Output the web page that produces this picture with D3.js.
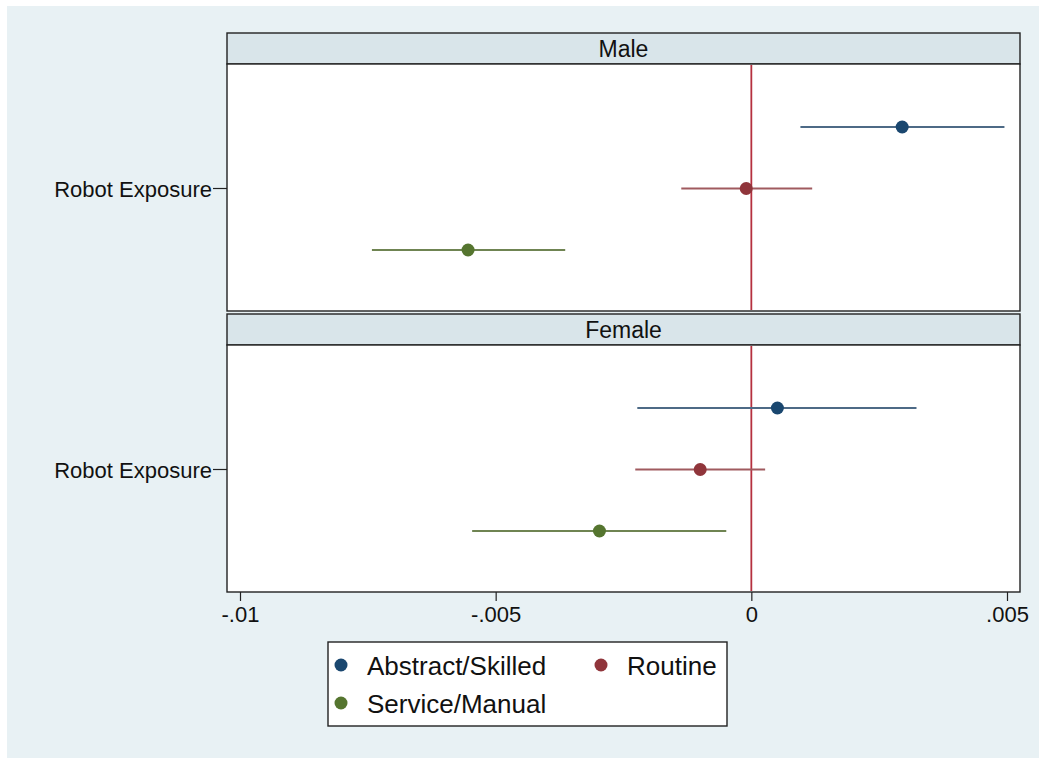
<!DOCTYPE html>
<html><head><meta charset="utf-8">
<script src="https://cdn.jsdelivr.net/npm/d3@7"></script>
<style>body{margin:0;background:#fff;}svg{display:block;font-family:"Liberation Sans",Arial,Helvetica,sans-serif;}</style>
</head><body>
<svg id="c" width="1039" height="758"></svg>
<script>
const panels = ["Male", "Female"];
const groups = ["Abstract/Skilled", "Routine", "Service/Manual"];
const rowLabel = "Robot Exposure";
// coefficient estimates and 95% CI [panel][group]
const estimates = [[0.00295, -0.0001, -0.00554], [0.00051, -0.0010, -0.00297]];
const lower = [[0.00096, -0.00137, -0.00742], [-0.00223, -0.00227, -0.00546]];
const upper = [[0.00495, 0.00119, -0.00364], [0.00323, 0.00027, -0.00049]];
const xTicks = [-0.01, -0.005, 0, 0.005];
const xTickLabels = ["-.01", "-.005", "0", ".005"];
const markerColors = ["#1a476f", "#90353b", "#55752f"];
const lineColors = ["#4d6a86", "#a05a5f", "#6f8452"];

const svg = d3.select("#c");
svg.append("rect").attr("x", 7).attr("y", 6).attr("width", 1032).attr("height", 752).attr("fill", "#e8f1f4");

const left = 227, right = 1020;
const x = d3.scaleLinear().domain([-0.01, 0.005]).range([240, 1007]);
const panelGeo = [{hTop: 33, pTop: 64, pBot: 311}, {hTop: 314, pTop: 345, pBot: 592}];

panelGeo.forEach((g, pi) => {
  // header
  svg.append("rect").attr("x", left).attr("y", g.hTop).attr("width", right - left).attr("height", g.pTop - g.hTop)
    .attr("fill", "#d9e5ea").attr("stroke", "#222").attr("stroke-width", 1.4);
  svg.append("text").attr("x", (left + right) / 2).attr("y", g.hTop + (g.pTop - g.hTop) / 2 + 8)
    .attr("text-anchor", "middle").attr("font-size", 23).attr("fill", "#111").text(panels[pi]);
  // plot
  svg.append("rect").attr("x", left).attr("y", g.pTop).attr("width", right - left).attr("height", g.pBot - g.pTop)
    .attr("fill", "#fff").attr("stroke", "#222").attr("stroke-width", 1.4);
  const y = d3.scalePoint().domain(groups).range([g.pTop + 63, g.pBot - 61]);
  // zero line
  svg.append("line").attr("x1", x(0)).attr("x2", x(0)).attr("y1", g.pTop + 1).attr("y2", g.pBot - 1)
    .attr("stroke", "#b5303f").attr("stroke-width", 1.8);
  // y tick + label
  const yc = y(groups[1]);
  svg.append("line").attr("x1", left - 14).attr("x2", left).attr("y1", yc).attr("y2", yc).attr("stroke", "#222").attr("stroke-width", 1.2);
  svg.append("text").attr("x", left - 15).attr("y", yc + 8).attr("text-anchor", "end").attr("font-size", 22).attr("fill", "#111").text(rowLabel);
  groups.forEach((grp, gi) => {
    svg.append("line").attr("x1", x(lower[pi][gi])).attr("x2", x(upper[pi][gi]))
      .attr("y1", y(grp)).attr("y2", y(grp)).attr("stroke", lineColors[gi]).attr("stroke-width", 2);
    svg.append("circle").attr("cx", x(estimates[pi][gi])).attr("cy", y(grp)).attr("r", 6.5).attr("fill", markerColors[gi]);
  });
});

// x axis
const axis = d3.axisBottom(x).tickValues(xTicks).tickFormat((d, i) => xTickLabels[i]).tickSize(9).tickPadding(5);
const ax = svg.append("g").attr("transform", "translate(0,592)").call(axis);
ax.select(".domain").remove();
ax.selectAll(".tick line").attr("stroke", "#222").attr("stroke-width", 1.2);
ax.selectAll(".tick text").attr("font-size", 22).attr("fill", "#111").attr("font-family", "'Liberation Sans',Arial,sans-serif");

// legend
const lg = svg.append("g");
lg.append("rect").attr("x", 328).attr("y", 642).attr("width", 399).attr("height", 84).attr("fill", "#fff").attr("stroke", "#222").attr("stroke-width", 1.4);
const legPos = [[341, 665], [601, 665], [341, 703]];
groups.forEach((grp, gi) => {
  lg.append("circle").attr("cx", legPos[gi][0]).attr("cy", legPos[gi][1]).attr("r", 6.5).attr("fill", markerColors[gi]);
  lg.append("text").attr("x", legPos[gi][0] + 26).attr("y", legPos[gi][1] + 10).attr("font-size", 26).attr("fill", "#111").text(grp);
});
</script>
</body></html>
